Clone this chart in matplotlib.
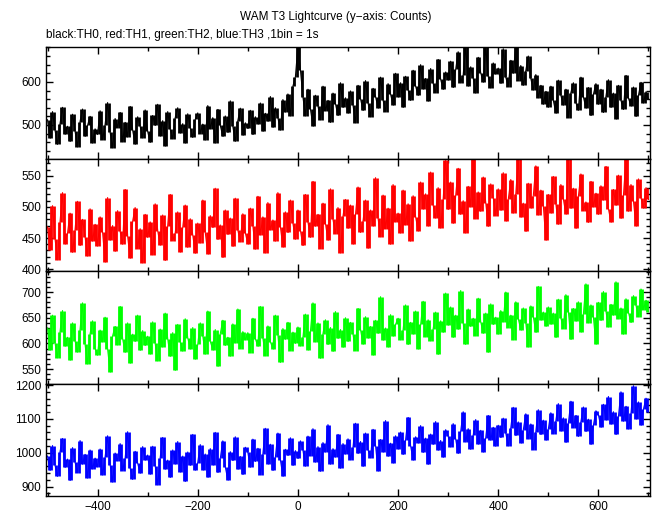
import numpy as np
import matplotlib.pyplot as plt
from matplotlib.ticker import MultipleLocator

plt.rcParams['font.family'] = ['Liberation Sans', 'DejaVu Sans']
plt.rcParams['font.size'] = 8.5

# time bins (s), values read every 5 s from the picture
t = np.arange(-500, 701, 5)

th0 = [512, 470, 531, 488, 455, 503, 541, 479, 497, 462, 525, 486, 449, 508, 537, 474, 499, 520, 458, 491,
       478, 533, 466, 501, 552, 483, 447, 515, 494, 529, 461, 506, 472, 543, 488, 456, 519, 497, 470, 535,
       485, 460, 522, 499, 548, 475, 510, 452, 531, 490, 468, 517, 540, 482, 503, 459, 526, 494, 471, 513,
       528, 480, 502, 465, 545, 491, 517, 458, 536, 499, 474, 521, 483, 556, 497, 462, 510, 539, 477, 505,
       492, 534, 478, 519, 503, 551, 486, 527, 509, 566, 495, 540, 517, 488, 559, 530, 572, 521, 590, 612,
       683, 628, 565, 521, 583, 537, 498, 569, 545, 512, 590, 533, 557, 506, 574, 549, 522, 598, 541, 563,
       528, 579, 546, 505, 592, 561, 534, 603, 552, 519, 585, 566, 540, 611, 558, 531, 596, 572, 547, 620,
       566, 598, 541, 613, 582, 557, 627, 590, 569, 640, 584, 608, 556, 631, 597, 575, 652, 606, 583, 623,
       605, 648, 587, 629, 670, 598, 616, 683, 591, 635, 609, 574, 657, 621, 600, 681, 613, 586, 644, 618,
       632, 597, 677, 611, 589, 650, 620, 683, 603, 638, 592, 626, 660, 608, 581, 617, 563, 592, 548, 578,
       541, 590, 557, 528, 604, 569, 546, 583, 517, 575, 598, 552, 534, 611, 565, 540, 587, 522, 571, 596,
       548, 583, 529, 566, 605, 541, 574, 515, 592, 557, 536, 615, 562, 545, 588, 520, 569, 599, 551, 577,
       560]

th1 = [468, 431, 502, 449, 415, 476, 523, 441, 458, 490, 427, 463, 509, 438, 480, 452, 421, 497, 445, 472,
       437, 484, 459, 412, 515, 447, 470, 429, 494, 461, 440, 528, 453, 418, 477, 499, 433, 465, 410, 488,
       451, 476, 423, 505, 462, 439, 487, 414, 470, 520, 446, 458, 492, 428, 467, 503, 435, 481, 455, 426,
       474, 442, 511, 459, 425, 486, 467, 530, 448, 471, 419, 495, 456, 482, 437, 514, 463, 444, 489, 458,
       441, 498, 470, 432, 517, 455, 484, 426, 507, 463, 479, 445, 523, 468, 436, 492, 459, 511, 474, 448,
       495, 462, 438, 520, 476, 451, 541, 469, 488, 433, 506, 473, 447, 529, 480, 457, 499, 426, 485, 512,
       466, 503, 441, 488, 532, 459, 477, 511, 434, 495, 470, 547, 482, 452, 519, 465, 498, 440, 536, 476,
       490, 458, 527, 471, 505, 445, 518, 484, 462, 540, 497, 521, 470, 556, 503, 482, 531, 466, 512, 575,
       496, 540, 474, 519, 562, 488, 510, 458, 533, 500, 577, 481, 524, 493, 548, 507, 469, 537, 515, 486,
       529, 495, 555, 478, 512, 544, 490, 521, 577, 484, 506, 461, 538, 499, 518, 566, 487, 527, 502, 447,
       520, 491, 549, 505, 472, 536, 513, 489, 577, 498, 530, 466, 517, 553, 494, 508, 475, 541, 500, 522,
       488, 534, 511, 565, 497, 476, 528, 503, 551, 482, 519, 577, 493, 536, 509, 470, 545, 515, 498, 531,
       512]

th2 = [630, 588, 655, 601, 572, 623, 664, 595, 612, 568, 640, 605, 583, 627, 679, 598, 560, 619, 644, 590,
       577, 626, 603, 651, 589, 545, 615, 633, 597, 672, 609, 583, 640, 562, 618, 604, 655, 587, 625, 596,
       614, 580, 642, 600, 566, 628, 593, 659, 609, 575, 621, 548, 637, 603, 585, 648, 611, 590, 631, 570,
       598, 640, 615, 579, 663, 604, 588, 627, 556, 619, 645, 596, 612, 575, 638, 601, 667, 590, 623, 607,
       621, 582, 649, 609, 595, 672, 611, 576, 634, 603, 590, 655, 617, 563, 629, 608, 641, 586, 622, 600,
       632, 595, 612, 657, 588, 624, 679, 603, 640, 571, 619, 646, 598, 631, 585, 662, 610, 627, 593, 650,
       604, 641, 618, 586, 668, 627, 599, 652, 611, 633, 578, 645, 620, 691, 607, 630, 594, 656, 615, 637,
       649, 607, 626, 675, 598, 641, 619, 663, 590, 637, 682, 613, 646, 605, 628, 661, 579, 644, 622, 698,
       636, 671, 612, 655, 628, 703, 640, 598, 667, 633, 649, 615, 688, 642, 620, 659, 583, 677, 637, 651,
       618, 664, 642, 700, 631, 655, 607, 681, 648, 627, 669, 640, 593, 673, 652, 622, 711, 646, 661, 634,
       671, 638, 659, 612, 686, 650, 629, 695, 662, 608, 668, 644, 681, 623, 657, 716, 640, 675, 651, 599,
       680, 645, 701, 663, 632, 676, 655, 720, 648, 669, 618, 687, 660, 641, 693, 674, 652, 706, 666, 684,
       662]

th3 = [990, 948, 1021, 963, 930, 1003, 1042, 957, 981, 918, 1015, 972, 941, 1036, 966, 995, 925, 1008, 952, 984,
       958, 1011, 934, 987, 1050, 965, 913, 999, 976, 1027, 947, 983, 1062, 955, 921, 1004, 969, 940, 1018, 979,
       993, 937, 1019, 961, 905, 985, 1045, 952, 978, 927, 1008, 968, 1033, 944, 990, 915, 1002, 963, 1054, 949,
       971, 1024, 950, 996, 928, 1012, 965, 1060, 942, 983, 1035, 958, 920, 1003, 977, 1047, 952, 989, 936, 1016,
       1001, 957, 1040, 974, 1013, 935, 996, 1072, 968, 1025, 948, 987, 1058, 979, 931, 1010, 992, 1044, 963, 1006,
       983, 1035, 1008, 960, 1049, 991, 1071, 972, 1018, 945, 1030, 1002, 1083, 966, 1012, 987, 1054, 954, 1027, 996,
       1041, 979, 1016, 1087, 998, 1033, 960, 1058, 1009, 985, 1069, 1021, 947, 1039, 1003, 1095, 990, 1028, 971, 1050,
       1012, 1061, 995, 1038, 1104, 1020, 979, 1047, 1030, 1080, 1001, 1043, 966, 1055, 1025, 1092, 1008, 1036, 987, 1068,
       1049, 1017, 1086, 1040, 998, 1063, 1121, 1032, 1071, 1010, 1052, 1098, 1026, 1066, 1003, 1044, 1110, 1037, 1075, 1019,
       1081, 1045, 1102, 1058, 1020, 1073, 1134, 1051, 1091, 1030, 1067, 1115, 1041, 1085, 1009, 1062, 1127, 1054, 1096, 1038,
       1070, 1118, 1056, 1094, 1145, 1065, 1103, 1031, 1087, 1152, 1074, 1110, 1048, 1092, 1135, 1063, 1099, 1025, 1081, 1124,
       1112, 1076, 1143, 1098, 1166, 1085, 1121, 1054, 1108, 1180, 1093, 1137, 1070, 1116, 1198, 1101, 1150, 1082, 1129, 1161,
       1120]

series = [th0, th1, th2, th3]
colors = ['black', 'red', '#00ff00', 'blue']
ylims = [(421, 681), (397, 577), (521, 741), (872, 1203)]
majors = [100, 50, 50, 100]
minors = [20, 10, 10, 20]

fig = plt.figure(figsize=(6.52, 5.15), dpi=100)
tops = [47, 159, 271, 384, 496]
for i in range(4):
    y0 = 1 - tops[i+1] / 515
    h = (tops[i+1] - tops[i]) / 515
    ax = fig.add_axes([46/652, y0, 604/652, h])
    v = np.array(series[i])
    # histogram-like look: each bin column spans between neighbouring values
    lo = np.minimum(v[:-1], v[1:])
    hi = np.maximum(v[:-1], v[1:])
    ax.vlines(t[:-1] + 2.5, lo, hi, color=colors[i], lw=2.0)
    ax.plot(t, v, color=colors[i], lw=0.8)
    ax.set_xlim(-503, 703)
    ax.set_ylim(*ylims[i])
    ax.xaxis.set_major_locator(MultipleLocator(200))
    ax.xaxis.set_minor_locator(MultipleLocator(100))
    ax.yaxis.set_major_locator(MultipleLocator(majors[i]))
    ax.yaxis.set_minor_locator(MultipleLocator(minors[i]))
    ax.tick_params(which='both', direction='in', top=True, right=True, width=1)
    ax.tick_params(which='major', length=5, labelsize=8.5)
    ax.tick_params(which='minor', length=3)
    if i < 3:
        ax.tick_params(labelbottom=False)
    for s in ax.spines.values():
        s.set_linewidth(1)

fig.text(336/652, 1 - 17/515, 'WAM T3 Lightcurve (y\u2212axis: Counts)', ha='center', va='center', fontsize=8.5)
fig.text(46/652, 1 - 35/515, 'black:TH0, red:TH1, green:TH2, blue:TH3 ,1bin = 1s', ha='left', va='center', fontsize=8.5)

fig.savefig('out.png', dpi=100)
